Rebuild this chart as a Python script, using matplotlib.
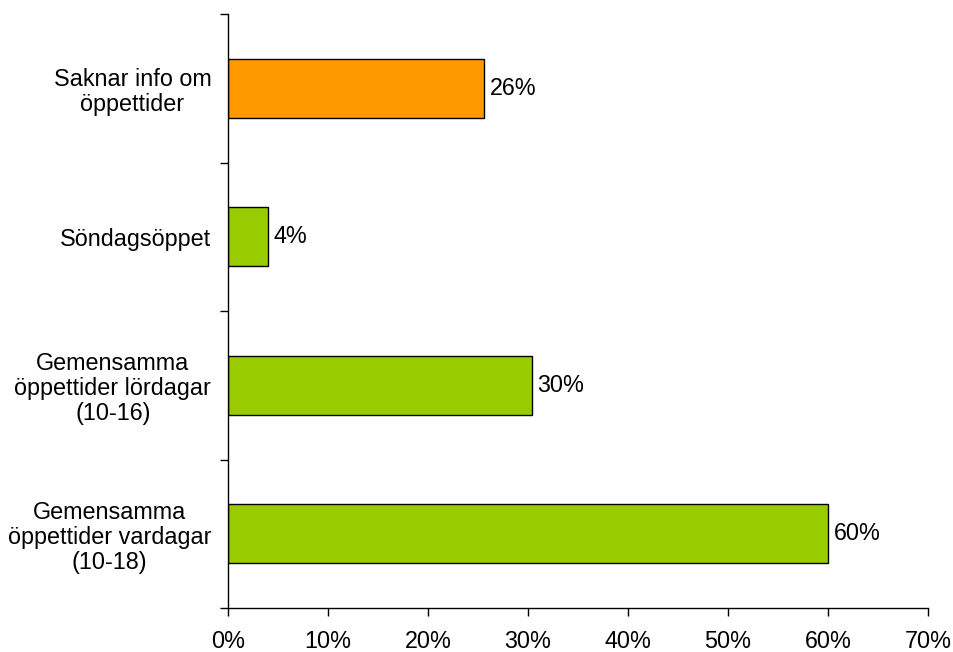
import matplotlib.pyplot as plt
from matplotlib.ticker import FixedLocator, PercentFormatter

plt.rcParams["font.family"] = ["Liberation Sans", "DejaVu Sans"]

# bottom-to-top order of the bars
categories = [
    "Gemensamma\nöppettider vardagar\n(10-18)",
    "Gemensamma\nöppettider lördagar\n(10-16)",
    "Söndagsöppet",
    "Saknar info om\nöppettider",
]
shares = [60.0, 30.4, 4.0, 25.6]
colors = ["#99CC00", "#99CC00", "#99CC00", "#FF9900"]

FS = 16.8


def main():
    fig = plt.figure(figsize=(9.54, 6.52), dpi=100)
    ax = fig.add_axes([228 / 954, 44 / 652, 700 / 954, 594 / 652])

    pos = range(len(categories))
    bars = ax.barh(pos, shares, height=0.4, color=colors,
                   edgecolor="black", linewidth=1.0)

    for bar, v in zip(bars, shares):
        ax.annotate(f"{v:.0f}%", (bar.get_width(), bar.get_y() + bar.get_height() / 2),
                    xytext=(4, 0), textcoords="offset points",
                    ha="left", va="center", fontsize=FS)

    ax.set_xlim(0, 70)
    ax.set_ylim(-0.5, len(categories) - 0.5)
    ax.set_xticks(range(0, 71, 10))
    ax.xaxis.set_major_formatter(PercentFormatter(decimals=0))

    ax.set_yticks(list(pos))
    ax.set_yticklabels(categories, multialignment="center", linespacing=1.12)
    ax.yaxis.set_minor_locator(FixedLocator([i - 0.5 for i in range(len(categories) + 1)]))

    ax.tick_params(axis="y", which="major", length=0, pad=12, labelsize=FS)
    ax.tick_params(axis="y", which="minor", length=6, width=1, direction="out")
    ax.tick_params(axis="x", length=6, width=1, direction="out", pad=10, labelsize=FS)

    for side in ("top", "right"):
        ax.spines[side].set_visible(False)
    for side in ("left", "bottom"):
        ax.spines[side].set_linewidth(1.0)

    fig.savefig("out.png", dpi=100)


if __name__ == "__main__":
    main()
